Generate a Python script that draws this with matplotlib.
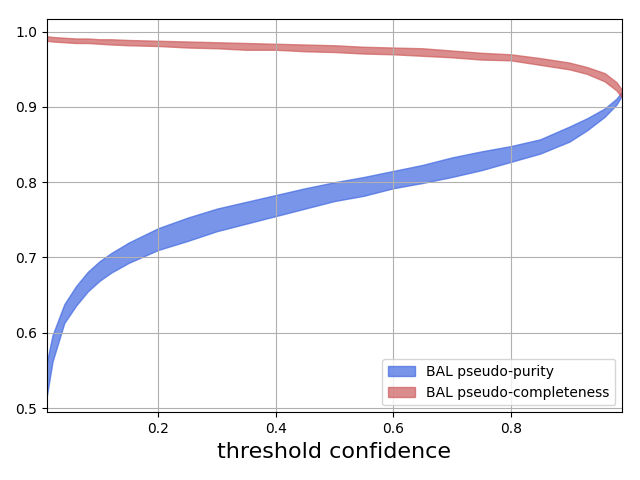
import matplotlib
matplotlib.use("Agg")
import matplotlib.pyplot as plt
import numpy as np

x = [0.01, 0.02, 0.04, 0.06, 0.08, 0.10, 0.12, 0.15, 0.20, 0.25, 0.30, 0.35, 0.40, 0.45,
     0.50, 0.55, 0.60, 0.65, 0.70, 0.75, 0.80, 0.85, 0.90, 0.93, 0.96, 0.98, 0.99]

purity_hi = [0.560, 0.597, 0.638, 0.662, 0.681, 0.695, 0.706, 0.720, 0.739, 0.753, 0.765, 0.774,
             0.783, 0.792, 0.800, 0.807, 0.815, 0.823, 0.833, 0.841, 0.848, 0.857, 0.874,
             0.885, 0.898, 0.911, 0.921]
purity_lo = [0.515, 0.562, 0.613, 0.636, 0.655, 0.669, 0.680, 0.693, 0.710, 0.722, 0.735, 0.745,
             0.755, 0.765, 0.775, 0.782, 0.792, 0.799, 0.807, 0.816, 0.827, 0.838, 0.854,
             0.869, 0.887, 0.903, 0.916]

compl_hi = [0.994, 0.993, 0.992, 0.991, 0.991, 0.990, 0.990, 0.989, 0.988, 0.987, 0.986, 0.985,
            0.984, 0.983, 0.982, 0.980, 0.979, 0.978, 0.975, 0.972, 0.970, 0.965, 0.959,
            0.953, 0.945, 0.933, 0.922]
compl_lo = [0.988, 0.987, 0.986, 0.985, 0.985, 0.984, 0.983, 0.982, 0.981, 0.979, 0.978, 0.976,
            0.976, 0.974, 0.973, 0.971, 0.970, 0.968, 0.966, 0.963, 0.962, 0.956, 0.950,
            0.944, 0.934, 0.922, 0.912]

fig, ax = plt.subplots(figsize=(6.4, 4.8), dpi=100)
ax.fill_between(x, purity_lo, purity_hi, color='royalblue', alpha=0.7, label='BAL pseudo-purity')
ax.fill_between(x, compl_lo, compl_hi, color='indianred', alpha=0.7, label='BAL pseudo-completeness')
ax.set_xlim(0.01, 0.99)
ax.set_ylim(0.4943, 1.0169)
ax.set_xticks([0.2, 0.4, 0.6, 0.8])
ax.grid(True)
ax.set_xlabel('threshold confidence', fontsize=16)
ax.legend(loc='lower right')
fig.subplots_adjust(left=46.7/640, right=622.3/640, top=1-19/480, bottom=1-412.3/480)
fig.savefig('out.png')
